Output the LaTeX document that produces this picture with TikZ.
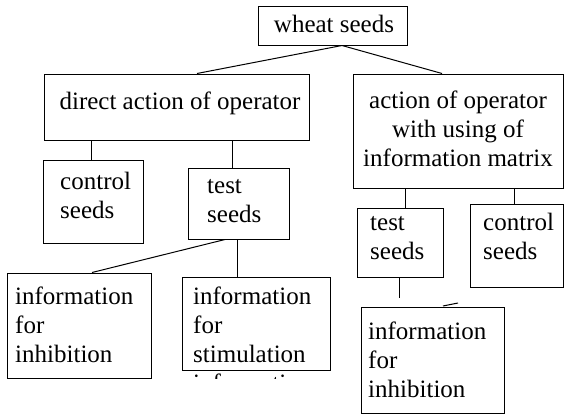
\documentclass[tikz,border=0pt]{standalone}
\usepackage{fontspec}
\setmainfont{Liberation Serif}
\begin{document}
\begin{tikzpicture}[x=1pt,y=-1pt,
  box/.style={draw,line width=1pt,inner sep=0pt,rectangle},
  txt/.style={inner sep=0pt,align=left,font=\fontsize{25}{29}\selectfont},
  ctxt/.style={inner sep=0pt,align=center,font=\fontsize{25}{29}\selectfont},
  conn/.style={line width=1pt}]
\useasboundingbox (0,0) rectangle (564,415);
% boxes
\node[box,minimum width=149pt,minimum height=39pt] (wheat) at (332.5,25.5) {};
\node[box,minimum width=265pt,minimum height=66pt] (direct) at (176.5,107) {};
\node[box,minimum width=210pt,minimum height=114pt] (action) at (458,131) {};
\node[box,minimum width=100pt,minimum height=83pt] (ctrlL) at (93,201.5) {};
\node[box,minimum width=101pt,minimum height=71pt] (testL) at (238.5,203.5) {};
\node[box,minimum width=144pt,minimum height=105pt] (infoL) at (79,325.5) {};
\node[box,minimum width=148pt,minimum height=93pt] (stim) at (256,323.5) {};
\node[box,minimum width=86pt,minimum height=69pt] (testR) at (400,242.5) {};
\node[box,minimum width=93pt,minimum height=83pt] (ctrlR) at (516.5,245.5) {};
\node[box,minimum width=143pt,minimum height=106pt] (infoR) at (432.5,360) {};
% texts (base anchor = baseline of the last line)
\node[ctxt,anchor=base] (twheat) at (334,32) {wheat seeds};
\node[ctxt,anchor=base] (tdirect) at (180,109) {direct action of operator};
\node[ctxt,anchor=base] (taction) at (458,166) {action of operator\\with using of\\information matrix};
\node[txt,anchor=base west] (tctrlL) at (60,218) {control\\seeds};
\node[txt,anchor=base west] (ttestL) at (207,222) {test\\seeds};
\node[txt,anchor=base west] (tinfoL) at (15,362) {information\\for\\inhibition};
\node[txt,anchor=base west] (tstim) at (193,362) {information\\for\\stimulation};
\begin{scope}
\clip (182,372) rectangle (330,378);
\node[txt,anchor=base west] (tstim4) at (193,391) {information};
\end{scope}
\node[txt,anchor=base west] (ttestR) at (370,259) {test\\seeds};
\node[txt,anchor=base west] (tctrlR) at (483,259) {control\\seeds};
\node[txt,anchor=base west] (tinfoR) at (368,397) {information\\for\\inhibition};
% connectors
\draw[conn] ([xshift=9.5pt]wheat.south) -- ([xshift=20.5pt]direct.north);
\draw[conn] ([xshift=9.5pt]wheat.south) -- ([xshift=-16pt]action.north);
\draw[conn] ([xshift=-2pt]ctrlL.north) -- ([xshift=-2pt]ctrlL.north |- direct.south);
\draw[conn] ([xshift=-6.5pt]testL.north) -- ([xshift=-6.5pt]testL.north |- direct.south);
\draw[conn] ([xshift=-13.5pt]testL.south) -- ([xshift=13pt]infoL.north);
\draw[conn] ([xshift=-19pt]stim.north) -- ([xshift=-19pt]stim.north |- testL.south);
\draw[conn] ([xshift=5pt]testR.north) -- ([xshift=5pt]testR.north |- action.south);
\draw[conn] ([xshift=-2.5pt]ctrlR.north) -- ([xshift=-2.5pt]ctrlR.north |- action.south);
\coordinate (freeR) at (399,298);
\draw[conn] (testR.south -| freeR) -- (freeR);
\coordinate (markA) at (443,306);
\coordinate (markB) at (458,303);
\draw[conn] (markA) -- (markB);
\end{tikzpicture}
\end{document}
